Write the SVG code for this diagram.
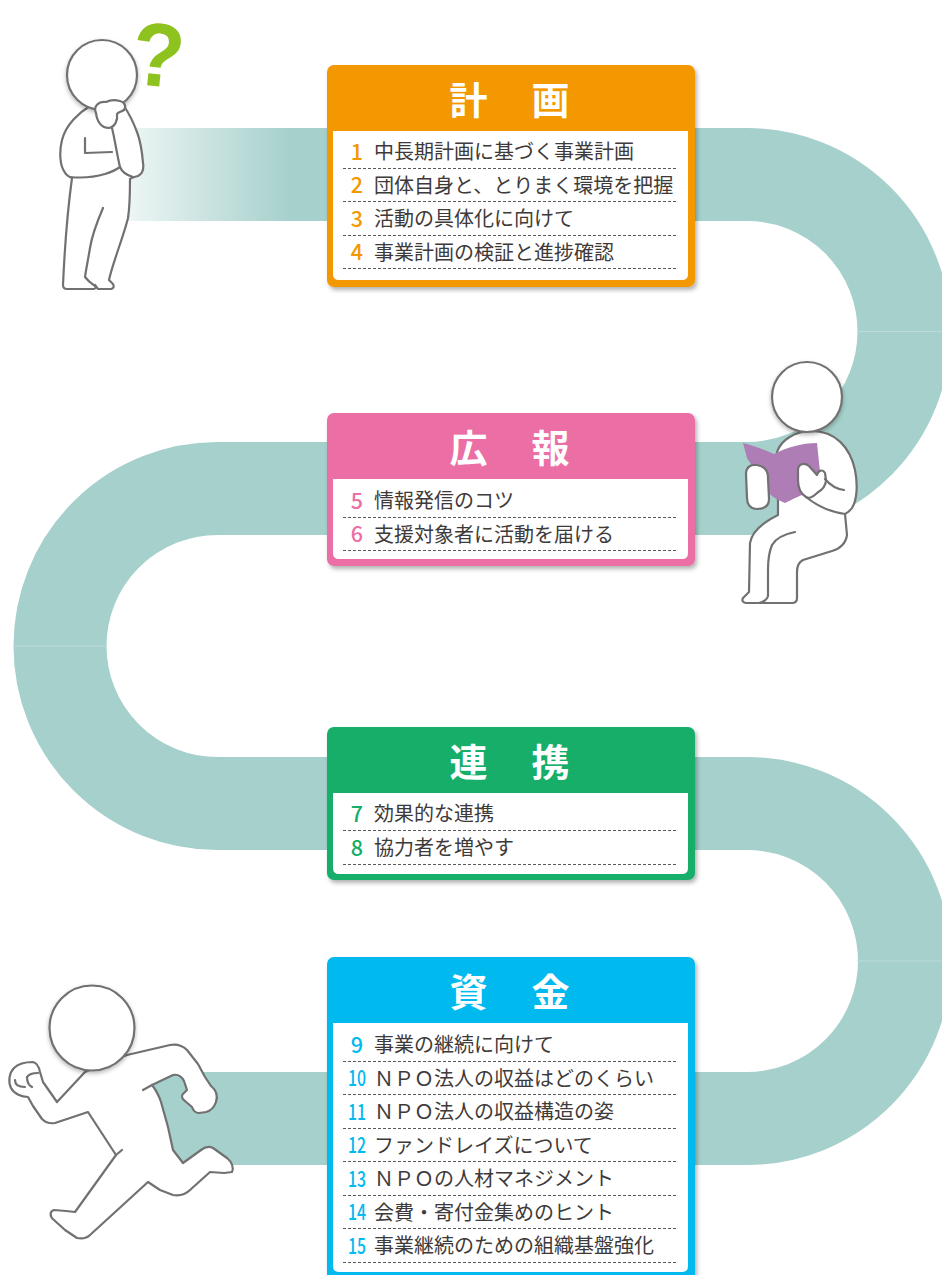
<svg xmlns="http://www.w3.org/2000/svg" width="942" height="1275" viewBox="0 0 942 1275">
  <defs>
    <linearGradient id="roadFade" gradientUnits="userSpaceOnUse" x1="128" y1="0" x2="292" y2="0">
      <stop offset="0" stop-color="#a5d0cb" stop-opacity="0.2"/>
      <stop offset="1" stop-color="#a5d0cb"/>
    </linearGradient>
    <filter id="boxShadow" x="-5%" y="-5%" width="112%" height="115%">
      <feDropShadow dx="2" dy="3" stdDeviation="2.2" flood-color="#000" flood-opacity="0.3"/>
    </filter>
    <filter id="headShadow" x="-20%" y="-20%" width="140%" height="150%">
      <feDropShadow dx="0" dy="2" stdDeviation="2" flood-color="#000" flood-opacity="0.28"/>
    </filter>
  </defs>
  <style>
    .title{font-family:"Noto Sans CJK JP","Noto Sans CJK SC",sans-serif;font-size:38px;font-weight:700;fill:#fff;letter-spacing:3px;text-anchor:middle}
    .item{font-family:"Noto Sans CJK JP","Noto Sans CJK SC",sans-serif;font-size:20px;fill:#3e3a39}
    .num{font-family:"Noto Sans CJK JP","Noto Sans CJK SC",sans-serif;font-size:21.5px;font-weight:500;text-anchor:middle}
    .rule{stroke:#595757;stroke-width:1;stroke-dasharray:3 2;fill:none}
    .inner{fill:#fff}
    .fig{fill:#fff;stroke:#727171;stroke-width:2.2;stroke-linejoin:round;stroke-linecap:round}
    .stroke{fill:none;stroke:#727171;stroke-width:2.2;stroke-linejoin:round;stroke-linecap:round}
    .seam{stroke:#bddcd8;stroke-width:1}
  </style>

  <!-- winding road -->
  <g id="road">
    <rect x="128" y="128" width="620" height="93" fill="url(#roadFade)"/>
    <path d="M747 174.5A157 157 0 0 1 747 488.5L217.5 488.5A157.5 157.5 0 0 0 217.5 803.5L747 803.5A157.5 157.5 0 0 1 747 1118.5L150 1118.5" fill="none" stroke="#a5d0cb" stroke-width="93"/>
    <line class="seam" x1="857" y1="331.5" x2="942" y2="331.5"/>
    <line class="seam" x1="14" y1="646" x2="107" y2="646"/>
    <line class="seam" x1="857" y1="961" x2="942" y2="961"/>
  </g>

  <!-- thinking figure -->
  <g id="thinker">
    <path class="fig" d="M90 106C80 112 66 124 62 140C59 152 60 165 64 171C66 175 69 177 72 178C69 200 65 240 63 285Q63 289 67 289L94 289Q97 288 95 285L98 289L111 289Q115 288 113 284L109 280C112 265 124 235 128 218C130 205 130 190 130 179C132 177 135 177 138 176C142 174 144 169 143 163C142 150 140 140 137 132C134 124 130 115 124 106Z"/>
    <path class="stroke" d="M70 177C80 178 95 177 105 174C111 172 116 170 120 167"/>
    <path class="stroke" d="M112 128C115 140 117 155 120 167C122 172 126 175 133 177"/>
    <path class="stroke" d="M85 138L85 153L112 152"/>
    <path class="stroke" d="M103 208C97 222 92 235 90 248C88 260 86 270 85 277C88 281 92 284 95 286"/>
    <circle class="fig" cx="102" cy="75" r="35" filter="url(#headShadow)"/>
    <path class="fig" d="M96 113C93 106 99 101 106 102C110 100 116 100 120 101C124 102 127 106 124 110C121 112 118 112 117 114C118 120 115 127 109 128C101 128 97 121 96 113Z"/>
    <text x="0" y="0" transform="translate(155 86) rotate(6) scale(0.95 1)" font-family="Liberation Sans, Arial, sans-serif" font-weight="700" font-size="90" fill="#8dc21f" text-anchor="middle">?</text>
  </g>

  <!-- reading figure -->
  <g id="reader">
    <path class="fig" d="M778 503L777 452C781 440 795 431 812 431C835 431 850 447 855 470C858 485 857 500 852 508C850 511 847 513 845 514L847 535C846 543 840 549 832 551L803 560C799 562 797 566 797 572L797 598Q797 603 792 603L746 603Q741 602 743 598L749 592L750 543C752 531 764 522 778 515Z"/>
    <path class="stroke" d="M795 532C785 534 776 538 772 545C769 552 768 560 768 570L768 596C767 600 763 602 759 603"/>
    <circle class="fig" cx="807" cy="397" r="35" filter="url(#headShadow)"/>
    <path d="M743 443C755 446 765 450 774 454C788 447 802 443 817 443L820 472L819 488C810 491 797 497 785 503C778 500 772 497 768 492L747 458Z" fill="#ae7db5"/>
    <path class="fig" d="M746 474C746 467 751 464 757 465C764 466 768 470 768 478L769 499C769 506 764 509 757 509C750 509 747 504 747 498Z"/>
    <path class="fig" d="M798 470C798 464 804 462 809 466L817 475C818 470 823 469 825 473L826 480C826 486 822 490 817 493C813 497 809 499 806 497C801 494 798 488 798 480Z"/>
    <path class="stroke" d="M825 479C830 485 836 489 844 490"/>
    <path class="stroke" d="M806 497C816 505 830 512 845 514"/>
  </g>

  <!-- running figure -->
  <g id="runner">
    <path class="fig" d="M127 1055L170 1045C177 1044 183 1046 187 1050L198 1064L205 1077L211 1086C216 1090 218 1096 216 1102C214 1108 210 1111 206 1112L199 1113C195 1113 193 1110 192 1107L185 1101C182 1099 181 1096 183 1094L187 1090L184 1081C182 1077 178 1074 173 1075L152 1085C156 1090 159 1096 161 1102L168 1127L173 1150L183 1163L201 1150C205 1147 209 1146 213 1148L227 1158C232 1162 234 1168 232 1172L224 1173L210 1172L190 1190C186 1194 180 1196 173 1195L160 1190L148 1182L90 1235C87 1238 82 1239 77 1238L65 1230L54 1220C49 1216 50 1211 54 1210L66 1211L75 1212L116 1155L88 1112L55 1123C49 1124 45 1122 42 1119L33 1106L28 1097C22 1097 14 1094 11 1088C8 1082 9 1073 14 1068C19 1063 27 1062 33 1062C37 1063 39 1067 40 1072L43 1082L57 1102L85 1072Z"/>
    <path class="stroke" d="M152 1085L143 1090"/>
    <path class="stroke" d="M116 1155L122 1150"/>
    <path class="stroke" d="M15 1080C15 1085 18 1087 25 1087"/>
    <path class="stroke" d="M27 1077C29 1074 33 1073 38 1073"/>
    <path class="stroke" d="M27 1077C27 1081 28 1085 32 1087"/>
    <circle class="fig" cx="92" cy="1028" r="42.5" filter="url(#headShadow)"/>
  </g>

  <!-- planning -->
  <g id="plan">
    <rect x="327" y="65" width="368" height="222" rx="7" fill="#f39800" filter="url(#boxShadow)"/>
    <path class="inner" d="M333 131H688V274Q688 280 682 280H339Q333 280 333 274Z"/>
    <text class="title" x="511" y="114">計　画</text>
    <g fill="#f39800">
      <text class="num" x="357" y="159.5">1</text>
      <text class="num" x="357" y="193">2</text>
      <text class="num" x="357" y="226.5">3</text>
      <text class="num" x="357" y="260">4</text>
    </g>
    <text class="item" x="374" y="159">中長期計画に基づく事業計画</text>
    <text class="item" x="374" y="192.5">団体自身と、とりまく環境を把握</text>
    <text class="item" x="374" y="226">活動の具体化に向けて</text>
    <text class="item" x="374" y="259.5">事業計画の検証と進捗確認</text>
    <path class="rule" d="M343 168.5H678M343 201.5H678M343 235.5H678M343 268.5H678"/>
  </g>

  <!-- public relations -->
  <g id="pr">
    <rect x="327" y="413" width="368" height="153" rx="7" fill="#eb6ea5" filter="url(#boxShadow)"/>
    <path class="inner" d="M333 479H688V553Q688 559 682 559H339Q333 559 333 553Z"/>
    <text class="title" x="511" y="462">広　報</text>
    <g fill="#eb6ea5">
      <text class="num" x="357" y="508.5">5</text>
      <text class="num" x="357" y="542">6</text>
    </g>
    <text class="item" x="374" y="508">情報発信のコツ</text>
    <text class="item" x="374" y="541.5">支援対象者に活動を届ける</text>
    <path class="rule" d="M343 517.5H678M343 550.5H678"/>
  </g>

  <!-- cooperation -->
  <g id="partner">
    <rect x="327" y="727" width="368" height="153" rx="7" fill="#13ae67" filter="url(#boxShadow)"/>
    <path class="inner" d="M333 793H688V868Q688 874 682 874H339Q333 874 333 868Z"/>
    <text class="title" x="511" y="776">連　携</text>
    <g fill="#13ae67">
      <text class="num" x="357" y="821.5">7</text>
      <text class="num" x="357" y="855.5">8</text>
    </g>
    <text class="item" x="374" y="821">効果的な連携</text>
    <text class="item" x="374" y="855">協力者を増やす</text>
    <path class="rule" d="M343 830.5H678M343 864.5H678"/>
  </g>

  <!-- funding -->
  <g id="fund">
    <rect x="327" y="957" width="368" height="330" rx="7" fill="#00b9ef" filter="url(#boxShadow)"/>
    <path class="inner" d="M333 1023H688V1266Q688 1272 682 1272H339Q333 1272 333 1266Z"/>
    <text class="title" x="511" y="1006">資　金</text>
    <g fill="#00b9ef">
      <text class="num" x="357" y="1052.5">9</text>
      <text class="num" x="357" y="1086" textLength="18" lengthAdjust="spacingAndGlyphs">10</text>
      <text class="num" x="357" y="1119.5" textLength="18" lengthAdjust="spacingAndGlyphs">11</text>
      <text class="num" x="357" y="1153" textLength="18" lengthAdjust="spacingAndGlyphs">12</text>
      <text class="num" x="357" y="1186.5" textLength="18" lengthAdjust="spacingAndGlyphs">13</text>
      <text class="num" x="357" y="1220" textLength="18" lengthAdjust="spacingAndGlyphs">14</text>
      <text class="num" x="357" y="1253.5" textLength="18" lengthAdjust="spacingAndGlyphs">15</text>
    </g>
    <text class="item" x="374" y="1052">事業の継続に向けて</text>
    <text class="item" x="374" y="1085.5">ＮＰＯ法人の収益はどのくらい</text>
    <text class="item" x="374" y="1119">ＮＰＯ法人の収益構造の姿</text>
    <text class="item" x="374" y="1152.5">ファンドレイズについて</text>
    <text class="item" x="374" y="1186">ＮＰＯの人材マネジメント</text>
    <text class="item" x="374" y="1219.5">会費・寄付金集めのヒント</text>
    <text class="item" x="374" y="1253">事業継続のための組織基盤強化</text>
    <path class="rule" d="M343 1061.5H678M343 1094.5H678M343 1128.5H678M343 1161.5H678M343 1195.5H678M343 1228.5H678M343 1262.5H678"/>
  </g>
</svg>
